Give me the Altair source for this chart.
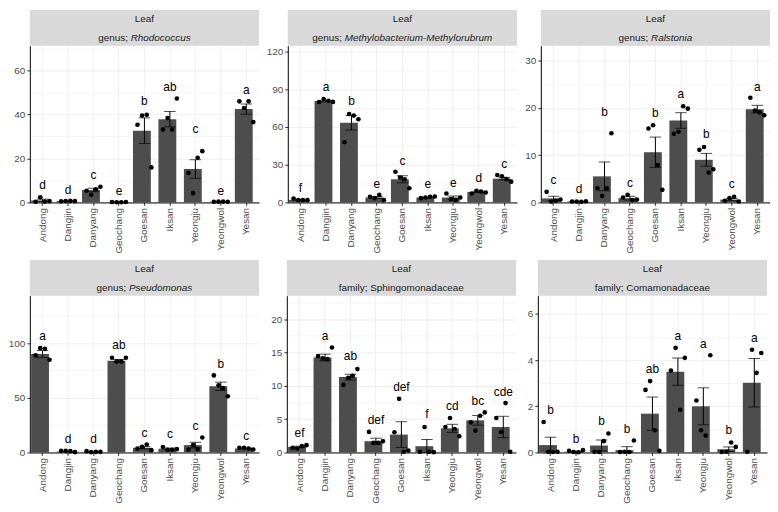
import altair as alt
import pandas as pd

sites = ["Andong", "Dangjin", "Danyang", "Geochang", "Goesan", "Iksan", "Yeongju", "Yeongwol", "Yesan"]

panel_tissue = ["Leaf"] * 6
panel_rank = ["genus;", "genus;", "genus;", "genus;", "family;", "family;"]
panel_taxon = ["Rhodococcus", "Methylobacterium-Methylorubrum", "Ralstonia",
               "Pseudomonas", "Sphingomonadaceae", "Comamonadaceae"]
panel_italic = [True, True, True, True, False, False]
panel_ymax = [71.2, 124.6, 33.1, 143.4, 23.5, 6.79]
panel_major = [20, 30, 10, 50, 5, 2]

# ---------- Rhodococcus ----------
means_1 = [0.9, 0.6, 5.6, 0.15, 32.6, 37.8, 15.2, 0.3, 42.4]
se_1 = [0.6, 0.1, 0.8, 0.05, 5.8, 3.5, 4.2, 0.05, 2.3]
points_1 = [[0.3, 2.3, 0.4, 0.6], [0.5, 0.6, 0.7, 0.6], [5.3, 3.5, 6.0, 7.1],
            [0.2, 0.1, 0.1, 0.2], [35.3, 39.5, 39.8, 15.9], [33.1, 38.3, 33.1, 47.2],
            [13.4, 4.2, 20.3, 23.3], [0.3, 0.4, 0.4, 0.3], [45.9, 42.9, 45.9, 36.5]]
letters_1 = ["d", "d", "c", "e", "b", "ab", "c", "e", "a"]
label_y_1 = [8.0, 5.7, 12.5, 5.3, 45.9, 52.6, 33.5, 5.3, 51.1]

# ---------- Methylobacterium-Methylorubrum ----------
means_2 = [2.1, 80.6, 63.3, 3.9, 18.4, 3.9, 3.9, 8.4, 18.9]
se_2 = [0.3, 0.6, 5.7, 0.8, 2.8, 0.3, 1.2, 0.5, 1.0]
points_2 = [[3.1, 1.8, 1.8, 1.8], [79.8, 82.2, 80.8, 79.9], [47.8, 70.3, 69.0, 66.1],
            [4.5, 3.4, 6.0, 1.8], [24.4, 19.7, 18.4, 11.3], [3.4, 3.9, 4.5, 4.7],
            [7.1, 2.6, 1.8, 3.9], [7.1, 9.2, 8.7, 7.9], [21.8, 20.7, 18.5, 16.5]]
letters_2 = ["f", "a", "b", "e", "c", "e", "e", "d", "c"]
label_y_2 = [11.8, 91.9, 80.8, 15.0, 33.3, 15.0, 15.7, 19.7, 30.2]

# ---------- Ralstonia ----------
means_3 = [0.85, 0.2, 5.5, 0.9, 10.6, 17.3, 9.0, 0.6, 19.7]
se_3 = [0.45, 0.03, 3.05, 0.4, 3.2, 1.65, 1.35, 0.25, 0.8]
points_3 = [[2.24, 0.2, 0.35, 0.6], [0.2, 0.2, 0.15, 0.25], [3.0, 1.4, 3.0, 14.6],
            [1.05, 1.6, 0.5, 0.6], [15.6, 16.3, 7.9, 2.66], [14.5, 14.9, 20.3, 19.8],
            [11.1, 11.7, 6.3, 7.0], [0.35, 0.9, 1.2, 0.2], [22.1, 19.4, 19.0, 18.4]]
letters_3 = ["c", "d", "b", "c", "b", "a", "b", "c", "a"]
label_y_3 = [4.8, 2.8, 19.1, 4.2, 18.8, 22.9, 14.4, 3.85, 24.3]

# ---------- Pseudomonas ----------
means_4 = [90.0, 0.8, 0.4, 83.9, 4.3, 3.4, 6.7, 60.5, 3.6]
se_4 = [3.2, 0.3, 0.2, 1.2, 1.1, 0.6, 2.6, 3.8, 0.4]
points_4 = [[88.8, 95.4, 94.8, 84.8], [1.5, 1.5, 1.2, 0.3], [1.2, 0.3, 0.6, 0.6],
            [86.6, 83.3, 83.3, 86.6], [3.6, 5.2, 7.3, 2.1], [4.9, 2.4, 2.4, 3.0],
            [2.7, 6.7, 3.0, 13.7], [70.5, 61.4, 59.0, 51.4], [4.3, 4.3, 3.6, 2.7]]
letters_4 = ["a", "d", "d", "ab", "c", "c", "c", "b", "c"]
label_y_4 = [106.4, 11.9, 11.9, 98.5, 18.2, 17.3, 24.3, 81.2, 15.2]

# ---------- Sphingomonadaceae ----------
means_5 = [0.84, 14.24, 11.3, 1.69, 2.68, 0.94, 3.62, 4.81, 3.82]
se_5 = [0.1, 0.5, 0.43, 0.45, 1.93, 1.0, 0.6, 0.72, 1.6]
points_5 = [[0.7, 0.6, 0.94, 1.09], [14.44, 14.1, 14.0, 15.73], [10.12, 11.2, 11.5, 12.5],
            [3.08, 1.44, 1.44, 1.69], [3.03, 8.04, 0.1, 0.3], [0.1, 3.82, 0.1, 0.05],
            [3.82, 5.16, 3.52, 2.43], [4.5, 3.28, 5.5, 6.0], [5.16, 3.08, 7.4, 0.1]]
letters_5 = ["ef", "a", "ab", "def", "def", "f", "cd", "bc", "cde"]
label_y_5 = [2.9, 17.47, 14.44, 4.9, 9.88, 5.8, 6.9, 7.74, 9.13]

# ---------- Comamonadaceae ----------
means_6 = [0.32, 0.03, 0.3, 0.1, 1.68, 3.5, 2.0, 0.14, 3.02]
se_6 = [0.34, 0.02, 0.24, 0.15, 0.72, 0.59, 0.8, 0.1, 1.05]
points_6 = [[1.32, 0.03, 0.02, 0.03], [0.07, 0.02, 0.01, 0.1], [0.03, 0.02, 0.49, 0.82],
            [0.02, 0.03, 0.02, 0.52], [2.71, 3.09, 0.96, 0.07], [3.55, 4.53, 1.85, 4.1],
            [2.25, 0.96, 0.73, 4.21], [0.02, 0.03, 0.43, 0.24], [0.03, 4.45, 3.45, 4.31]]
letters_6 = ["b", "b", "b", "b", "ab", "a", "a", "b", "a"]
label_y_6 = [1.85, 0.6, 1.35, 1.02, 3.61, 5.04, 4.71, 0.95, 4.96]

all_means = [means_1, means_2, means_3, means_4, means_5, means_6]
all_se = [se_1, se_2, se_3, se_4, se_5, se_6]
all_points = [points_1, points_2, points_3, points_4, points_5, points_6]
all_letters = [letters_1, letters_2, letters_3, letters_4, letters_5, letters_6]
all_label_y = [label_y_1, label_y_2, label_y_3, label_y_4, label_y_5, label_y_6]

# ---------- layout / style ----------
FONT = "Liberation Sans"
W, H, STRIP = 231, 158, 36
Y_EXTENT = [20, 21, 15]
X_EXTENT = 51
BAND = W / 9 * 0.9          # bar width with paddingInner 0.1 / paddingOuter 0.05
JIT = 7                     # half spread of the dots inside a bar

CW = {c: 556 for c in "abdeghnopqu"}
CW.update({"c": 500, "f": 278, "i": 222, "j": 222, "k": 500, "l": 222, "m": 833, "r": 333,
           "s": 500, "t": 278, "v": 500, "w": 722, "x": 500, "y": 500, "z": 500,
           "M": 833, "R": 722, "P": 667, "S": 667, "C": 722, ";": 278, " ": 278, "-": 333})


def text_w(s, size):
    return sum(CW.get(ch, 556) for ch in s) * size / 1000.0


def panel(i, col):
    bars = pd.DataFrame({"site": sites, "mean": all_means[i], "se": all_se[i],
                         "letter": all_letters[i], "ly": all_label_y[i]})
    bars["lo"] = (bars["mean"] - bars["se"]).clip(lower=0)
    bars["hi"] = bars["mean"] + bars["se"]
    rows = []
    for s, vals in zip(sites, all_points[i]):
        for r, v in enumerate(vals):
            rows.append({"site": s, "rep": r, "val": v})
    pts = pd.DataFrame(rows)
    strip = pd.DataFrame({"tissue": [panel_tissue[i]], "rank": [panel_rank[i]],
                          "taxon": [panel_taxon[i]]})

    ymax = panel_ymax[i]
    major = panel_major[i]
    minor = major / 2
    vals = []
    k = 0
    while k * minor <= ymax + 1e-9:
        vals.append(round(k * minor, 6))
        k += 1
    is_major = f"abs(datum.value % {major}) < 1e-6"

    xsc = alt.Scale(domain=sites, paddingInner=0.1, paddingOuter=0.05)
    ysc = alt.Scale(domain=[0, ymax], nice=False, zero=True)
    xaxis = alt.Axis(title=None, labelAngle=-90, labelFontSize=10, labelFont=FONT,
                     labelColor="#4D4D4D", tickColor="#333333", tickSize=3, labelPadding=2,
                     domainColor="black", domainWidth=1, grid=True, gridColor="#EBEBEB",
                     gridWidth=0.8, bandPosition=0.5, minExtent=X_EXTENT, maxExtent=X_EXTENT)
    yaxis = alt.Axis(title=None, values=vals, labelExpr=f"{is_major} ? datum.label : ''",
                     labelFontSize=10, labelFont=FONT, labelColor="#4D4D4D",
                     tickColor={"condition": {"test": is_major, "value": "#333333"},
                                "value": "rgba(0,0,0,0)"},
                     tickSize=3, labelPadding=2, domainColor="black", domainWidth=1,
                     grid=True,
                     gridColor={"condition": {"test": is_major, "value": "#EBEBEB"},
                                "value": "#F4F4F4"},
                     gridWidth=0.8,
                     minExtent=Y_EXTENT[col], maxExtent=Y_EXTENT[col])

    X = alt.X("site:N", scale=xsc, axis=xaxis, sort=sites)

    bar = alt.Chart(bars).mark_bar(color="#4D4D4D").encode(
        x=X, y=alt.Y("mean:Q", scale=ysc, axis=yaxis))
    err = alt.Chart(bars).mark_rule(color="black", strokeWidth=1).encode(
        x=X, y=alt.Y("lo:Q", scale=ysc, axis=yaxis), y2="hi:Q")
    cap_hi = alt.Chart(bars).mark_tick(color="black", thickness=1, size=11.5,
                                       orient="horizontal").encode(
        x=X, y=alt.Y("hi:Q", scale=ysc, axis=yaxis))
    cap_lo = alt.Chart(bars).mark_tick(color="black", thickness=1, size=11.5,
                                       orient="horizontal").encode(
        x=X, y=alt.Y("lo:Q", scale=ysc, axis=yaxis))
    dots = alt.Chart(pts).mark_circle(color="black", size=22, opacity=1).encode(
        x=X,
        xOffset=alt.XOffset("rep:Q", scale=alt.Scale(domain=[0, 3],
                                                     range=[BAND / 2 - JIT, BAND / 2 + JIT])),
        y=alt.Y("val:Q", scale=ysc, axis=yaxis))
    lett = alt.Chart(bars).mark_text(font=FONT, fontSize=12, color="black",
                                     baseline="middle").encode(
        x=X, y=alt.Y("ly:Q", scale=ysc, axis=yaxis), text="letter:N")

    rect = alt.Chart(strip).mark_rect(color="#D9D9D9").encode(
        x=alt.value(0), x2=alt.value(W), y=alt.value(-STRIP), y2=alt.value(0))
    t1 = alt.Chart(strip).mark_text(font=FONT, fontSize=10, color="#1A1A1A",
                                    align="center", baseline="middle").encode(
        x=alt.value(W / 2), y=alt.value(-26.5), text="tissue:N")
    w1 = text_w(panel_rank[i] + " ", 10)
    w2 = text_w(panel_taxon[i], 10)
    xs = W / 2 - (w1 + w2) / 2 + w1
    t2 = alt.Chart(strip).mark_text(font=FONT, fontSize=10, color="#1A1A1A",
                                    align="right", baseline="middle").encode(
        x=alt.value(xs - text_w(" ", 10)), y=alt.value(-7.5), text="rank:N")
    t3 = alt.Chart(strip).mark_text(font=FONT, fontSize=10, color="#1A1A1A",
                                    align="left", baseline="middle",
                                    fontStyle="italic" if panel_italic[i] else "normal").encode(
        x=alt.value(xs), y=alt.value(-7.5), text="taxon:N")

    return alt.layer(rect, t1, t2, t3, bar, err, cap_hi, cap_lo, dots, lett).properties(
        width=W, height=H)


row1 = alt.hconcat(panel(0, 0), panel(1, 1), panel(2, 2), spacing=7)
row2 = alt.hconcat(panel(3, 0), panel(4, 1), panel(5, 2), spacing=7)
chart = alt.vconcat(row1, row2, spacing=6).properties(
    padding={"left": 0, "top": 0, "right": 0, "bottom": 0},
    background="white",
).configure_view(stroke=None)

chart.save("out.html", embed_options={"renderer": "svg", "actions": False})
